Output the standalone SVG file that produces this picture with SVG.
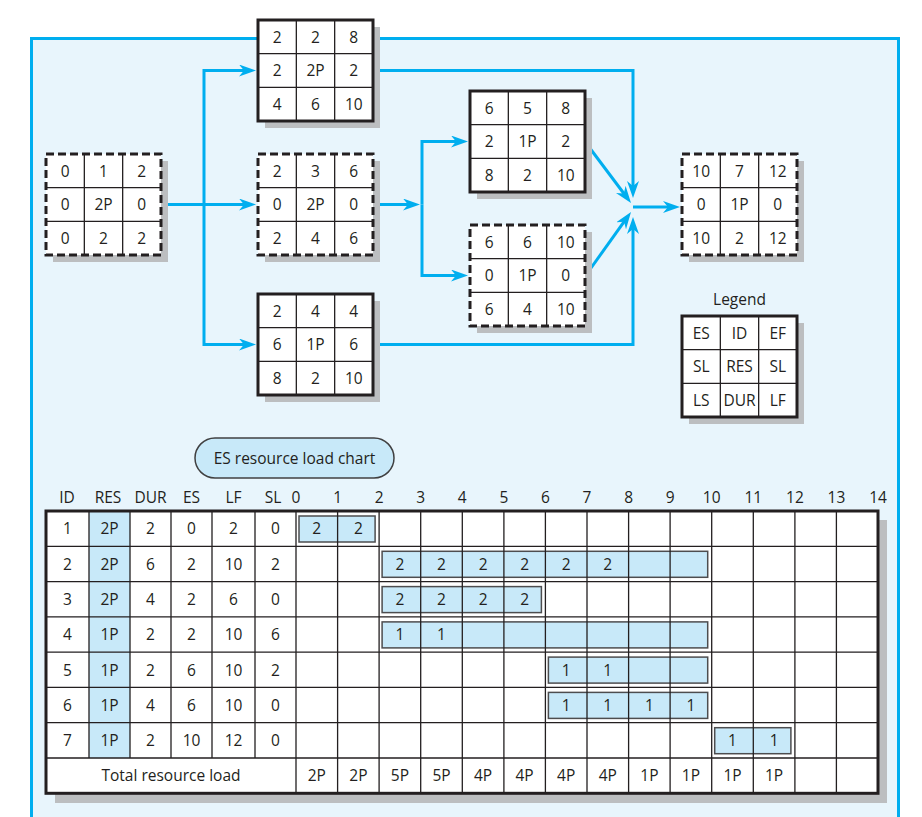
<svg xmlns="http://www.w3.org/2000/svg" width="922" height="817" viewBox="0 0 922 817">
<defs>
<style>
.t{font-family:"Open Sans","Liberation Sans",sans-serif;font-size:15.5px;fill:#231f20;text-anchor:middle}
.sh{fill:#bcbec0}
.bg{fill:#fff}
.nb{fill:none;stroke:#231f20;stroke-width:3}
.nd{stroke-dasharray:8 4}
.in{fill:none;stroke:#231f20;stroke-width:1.3}
.c{fill:none;stroke:#00aeef;stroke-width:3;marker-end:url(#ah)}
.bar{fill:#c8e9f9;stroke:#4d4d4f;stroke-width:1.5}
</style>
<marker id="ah" markerUnits="userSpaceOnUse" viewBox="0 0 17 12" markerWidth="17" markerHeight="12" refX="7" refY="6" orient="auto">
<path d="M0,0 L17,6 L0,12 L5,6 Z" fill="#00aeef"/>
</marker>
</defs>
<rect x="31.5" y="38.5" width="867" height="800" fill="#e8f5fc" stroke="#00aeef" stroke-width="3"/>

<g id="connectors">
<path class="c" d="M161,204.5 H246"/>
<path class="c" d="M204,204.5 V70.5 H246"/>
<path class="c" d="M204,204.5 V344.5 H246"/>
<path class="c" d="M373,204.5 H410"/>
<path class="c" d="M422,204.5 V141.5 H458"/>
<path class="c" d="M422,204.5 V275.5 H458"/>
<path class="c" d="M373,70.5 H633 V188"/>
<path class="c" d="M373,344.5 H633 V227"/>
<path class="c" d="M586,143 L625,195"/>
<path class="c" d="M586,275 L625.2,220.1"/>
<path class="c" d="M633,207 H670"/>
</g>

<g id="n1">
<rect class="sh" x="53" y="161" width="115" height="101"/>
<rect class="bg" x="46" y="154" width="115" height="101"/>
<path class="in" d="M84.33,154 V255 M122.67,154 V255 M46,187.67 H161 M46,221.33 H161"/>
<rect class="nb nd" x="46" y="154" width="115" height="101"/>
<text class="t" x="65.2" y="176.5">0</text><text class="t" x="103.5" y="176.5">1</text><text class="t" x="141.8" y="176.5">2</text>
<text class="t" x="65.2" y="210">0</text><text class="t" x="103.5" y="210">2P</text><text class="t" x="141.8" y="210">0</text>
<text class="t" x="65.2" y="243.5">0</text><text class="t" x="103.5" y="243.5">2</text><text class="t" x="141.8" y="243.5">2</text>
</g>

<g id="n2">
<rect class="sh" x="265" y="27" width="115" height="101"/>
<rect class="bg" x="258" y="20" width="115" height="101"/>
<path class="in" d="M296.33,20 V121 M334.67,20 V121 M258,53.67 H373 M258,87.33 H373"/>
<rect class="nb" x="258" y="20" width="115" height="101"/>
<text class="t" x="277.2" y="42.5">2</text><text class="t" x="315.5" y="42.5">2</text><text class="t" x="353.8" y="42.5">8</text>
<text class="t" x="277.2" y="76">2</text><text class="t" x="315.5" y="76">2P</text><text class="t" x="353.8" y="76">2</text>
<text class="t" x="277.2" y="109.5">4</text><text class="t" x="315.5" y="109.5">6</text><text class="t" x="353.8" y="109.5">10</text>
</g>

<g id="n3">
<rect class="sh" x="265" y="161" width="115" height="101"/>
<rect class="bg" x="258" y="154" width="115" height="101"/>
<path class="in" d="M296.33,154 V255 M334.67,154 V255 M258,187.67 H373 M258,221.33 H373"/>
<rect class="nb nd" x="258" y="154" width="115" height="101"/>
<text class="t" x="277.2" y="176.5">2</text><text class="t" x="315.5" y="176.5">3</text><text class="t" x="353.8" y="176.5">6</text>
<text class="t" x="277.2" y="210">0</text><text class="t" x="315.5" y="210">2P</text><text class="t" x="353.8" y="210">0</text>
<text class="t" x="277.2" y="243.5">2</text><text class="t" x="315.5" y="243.5">4</text><text class="t" x="353.8" y="243.5">6</text>
</g>

<g id="n4">
<rect class="sh" x="265" y="301" width="115" height="101"/>
<rect class="bg" x="258" y="294" width="115" height="101"/>
<path class="in" d="M296.33,294 V395 M334.67,294 V395 M258,327.67 H373 M258,361.33 H373"/>
<rect class="nb" x="258" y="294" width="115" height="101"/>
<text class="t" x="277.2" y="316.5">2</text><text class="t" x="315.5" y="316.5">4</text><text class="t" x="353.8" y="316.5">4</text>
<text class="t" x="277.2" y="350">6</text><text class="t" x="315.5" y="350">1P</text><text class="t" x="353.8" y="350">6</text>
<text class="t" x="277.2" y="383.5">8</text><text class="t" x="315.5" y="383.5">2</text><text class="t" x="353.8" y="383.5">10</text>
</g>

<g id="n5">
<rect class="sh" x="477" y="98" width="115" height="101"/>
<rect class="bg" x="470" y="91" width="115" height="101"/>
<path class="in" d="M508.33,91 V192 M546.67,91 V192 M470,124.67 H585 M470,158.33 H585"/>
<rect class="nb" x="470" y="91" width="115" height="101"/>
<text class="t" x="489.2" y="113.5">6</text><text class="t" x="527.5" y="113.5">5</text><text class="t" x="565.8" y="113.5">8</text>
<text class="t" x="489.2" y="147">2</text><text class="t" x="527.5" y="147">1P</text><text class="t" x="565.8" y="147">2</text>
<text class="t" x="489.2" y="180.5">8</text><text class="t" x="527.5" y="180.5">2</text><text class="t" x="565.8" y="180.5">10</text>
</g>

<g id="n6">
<rect class="sh" x="477" y="232" width="115" height="101"/>
<rect class="bg" x="470" y="225" width="115" height="101"/>
<path class="in" d="M508.33,225 V326 M546.67,225 V326 M470,258.67 H585 M470,292.33 H585"/>
<rect class="nb nd" x="470" y="225" width="115" height="101"/>
<text class="t" x="489.2" y="247.5">6</text><text class="t" x="527.5" y="247.5">6</text><text class="t" x="565.8" y="247.5">10</text>
<text class="t" x="489.2" y="281">0</text><text class="t" x="527.5" y="281">1P</text><text class="t" x="565.8" y="281">0</text>
<text class="t" x="489.2" y="314.5">6</text><text class="t" x="527.5" y="314.5">4</text><text class="t" x="565.8" y="314.5">10</text>
</g>

<g id="n7">
<rect class="sh" x="689" y="161" width="115" height="101"/>
<rect class="bg" x="682" y="154" width="115" height="101"/>
<path class="in" d="M720.33,154 V255 M758.67,154 V255 M682,187.67 H797 M682,221.33 H797"/>
<rect class="nb nd" x="682" y="154" width="115" height="101"/>
<text class="t" x="701.2" y="176.5">10</text><text class="t" x="739.5" y="176.5">7</text><text class="t" x="777.8" y="176.5">12</text>
<text class="t" x="701.2" y="210">0</text><text class="t" x="739.5" y="210">1P</text><text class="t" x="777.8" y="210">0</text>
<text class="t" x="701.2" y="243.5">10</text><text class="t" x="739.5" y="243.5">2</text><text class="t" x="777.8" y="243.5">12</text>
</g>

<g id="legend">
<text class="t" x="739.5" y="305">Legend</text>
<rect class="sh" x="689" y="323" width="115" height="101"/>
<rect class="bg" x="682" y="316" width="115" height="101"/>
<path class="in" d="M720.33,316 V417 M758.67,316 V417 M682,349.67 H797 M682,383.33 H797"/>
<rect class="nb" x="682" y="316" width="115" height="101"/>
<text class="t" x="701.2" y="338.5">ES</text><text class="t" x="739.5" y="338.5">ID</text><text class="t" x="777.8" y="338.5">EF</text>
<text class="t" x="701.2" y="372">SL</text><text class="t" x="739.5" y="372">RES</text><text class="t" x="777.8" y="372">SL</text>
<text class="t" x="701.2" y="405.5">LS</text><text class="t" x="739.5" y="405.5">DUR</text><text class="t" x="777.8" y="405.5">LF</text>
</g>

<g id="chart-title">
<rect x="195" y="438" width="199" height="40" rx="20" fill="#c8e9f9" stroke="#404041" stroke-width="1.5"/>
<text class="t" x="294.5" y="463.5">ES resource load chart</text>
</g>

<g id="chart">
<g class="hdr">
<text class="t" x="67" y="503">ID</text><text class="t" x="108" y="503">RES</text><text class="t" x="150.5" y="503">DUR</text><text class="t" x="191.5" y="503">ES</text><text class="t" x="233.5" y="503">LF</text><text class="t" x="273" y="503">SL</text>
<text class="t" x="296" y="503">0</text><text class="t" x="337.6" y="503">1</text><text class="t" x="379.1" y="503">2</text><text class="t" x="420.7" y="503">3</text><text class="t" x="462.3" y="503">4</text><text class="t" x="503.9" y="503">5</text><text class="t" x="545.4" y="503">6</text><text class="t" x="587" y="503">7</text><text class="t" x="628.6" y="503">8</text><text class="t" x="670.1" y="503">9</text><text class="t" x="711.7" y="503">10</text><text class="t" x="753.3" y="503">11</text><text class="t" x="794.9" y="503">12</text><text class="t" x="836.4" y="503">13</text><text class="t" x="878" y="503">14</text>
</g>
<rect class="sh" x="55" y="520" width="832" height="283"/>
<rect class="bg" x="46" y="511" width="832" height="282.3"/>
<rect x="89" y="511" width="41" height="247" fill="#c8e9f9"/>
<rect class="bar" x="299" y="516" width="76.1" height="26"/>
<rect class="bar" x="382.1" y="551.3" width="325.6" height="26"/>
<rect class="bar" x="382.1" y="586.6" width="159.3" height="26"/>
<rect class="bar" x="382.1" y="621.9" width="325.6" height="26"/>
<rect class="bar" x="548.4" y="657.1" width="159.3" height="26"/>
<rect class="bar" x="548.4" y="692.4" width="159.3" height="26"/>
<rect class="bar" x="714.7" y="727.7" width="76.2" height="26"/>
<path class="in" d="M89,511 V758 M130,511 V758 M171,511 V758 M212,511 V758 M255,511 V758 M296,511 V793.3 M337.6,511 V793.3 M379.1,511 V793.3 M420.7,511 V793.3 M462.3,511 V793.3 M503.9,511 V793.3 M545.4,511 V793.3 M587,511 V793.3 M628.6,511 V793.3 M670.1,511 V793.3 M711.7,511 V793.3 M753.3,511 V793.3 M794.9,511 V793.3 M836.4,511 V793.3 M46,546.3 H878 M46,581.6 H878 M46,616.9 H878 M46,652.1 H878 M46,687.4 H878 M46,722.7 H878 M46,758 H878"/>
<rect class="nb" x="46" y="511" width="832" height="282.3"/>
<g>
<text class="t" x="67.5" y="534">1</text><text class="t" x="109.5" y="534">2P</text><text class="t" x="150.5" y="534">2</text><text class="t" x="191.5" y="534">0</text><text class="t" x="233.5" y="534">2</text><text class="t" x="275.5" y="534">0</text>
<text class="t" x="316.8" y="534">2</text><text class="t" x="358.4" y="534">2</text>
<text class="t" x="67.5" y="569.5">2</text><text class="t" x="109.5" y="569.5">2P</text><text class="t" x="150.5" y="569.5">6</text><text class="t" x="191.5" y="569.5">2</text><text class="t" x="233.5" y="569.5">10</text><text class="t" x="275.5" y="569.5">2</text>
<text class="t" x="399.9" y="569.5">2</text><text class="t" x="441.5" y="569.5">2</text><text class="t" x="483.1" y="569.5">2</text><text class="t" x="524.6" y="569.5">2</text><text class="t" x="566.2" y="569.5">2</text><text class="t" x="607.8" y="569.5">2</text>
<text class="t" x="67.5" y="605">3</text><text class="t" x="109.5" y="605">2P</text><text class="t" x="150.5" y="605">4</text><text class="t" x="191.5" y="605">2</text><text class="t" x="233.5" y="605">6</text><text class="t" x="275.5" y="605">0</text>
<text class="t" x="399.9" y="605">2</text><text class="t" x="441.5" y="605">2</text><text class="t" x="483.1" y="605">2</text><text class="t" x="524.6" y="605">2</text>
<text class="t" x="67.5" y="640">4</text><text class="t" x="109.5" y="640">1P</text><text class="t" x="150.5" y="640">2</text><text class="t" x="191.5" y="640">2</text><text class="t" x="233.5" y="640">10</text><text class="t" x="275.5" y="640">6</text>
<text class="t" x="399.9" y="640">1</text><text class="t" x="441.5" y="640">1</text>
<text class="t" x="67.5" y="675.5">5</text><text class="t" x="109.5" y="675.5">1P</text><text class="t" x="150.5" y="675.5">2</text><text class="t" x="191.5" y="675.5">6</text><text class="t" x="233.5" y="675.5">10</text><text class="t" x="275.5" y="675.5">2</text>
<text class="t" x="566.2" y="675.5">1</text><text class="t" x="607.8" y="675.5">1</text>
<text class="t" x="67.5" y="710.5">6</text><text class="t" x="109.5" y="710.5">1P</text><text class="t" x="150.5" y="710.5">4</text><text class="t" x="191.5" y="710.5">6</text><text class="t" x="233.5" y="710.5">10</text><text class="t" x="275.5" y="710.5">0</text>
<text class="t" x="566.2" y="710.5">1</text><text class="t" x="607.8" y="710.5">1</text><text class="t" x="649.4" y="710.5">1</text><text class="t" x="690.9" y="710.5">1</text>
<text class="t" x="67.5" y="746">7</text><text class="t" x="109.5" y="746">1P</text><text class="t" x="150.5" y="746">2</text><text class="t" x="191.5" y="746">10</text><text class="t" x="233.5" y="746">12</text><text class="t" x="275.5" y="746">0</text>
<text class="t" x="732.5" y="746">1</text><text class="t" x="774.1" y="746">1</text>
<text class="t" x="171" y="781">Total resource load</text>
<text class="t" x="316.8" y="781">2P</text><text class="t" x="358.4" y="781">2P</text><text class="t" x="399.9" y="781">5P</text><text class="t" x="441.5" y="781">5P</text><text class="t" x="483.1" y="781">4P</text><text class="t" x="524.6" y="781">4P</text><text class="t" x="566.2" y="781">4P</text><text class="t" x="607.8" y="781">4P</text><text class="t" x="649.4" y="781">1P</text><text class="t" x="690.9" y="781">1P</text><text class="t" x="732.5" y="781">1P</text><text class="t" x="774.1" y="781">1P</text>
</g>
</g>
</svg>
